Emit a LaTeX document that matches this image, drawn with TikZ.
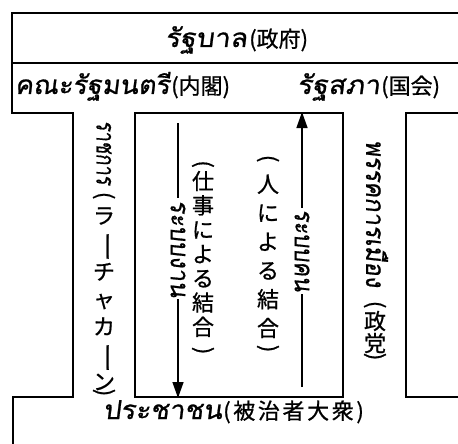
\documentclass[tikz,border=0pt]{standalone}
\usepackage{fontspec}
\newfontfamily\thaifont[Script=Thai,FakeSlant=0.12,FakeBold=0.8]{Loma}
\newfontfamily\jpfont[FakeBold=0.8]{Noto Sans CJK JP}
\newfontfamily\jpwfont[LetterSpace=12,FakeBold=0.8]{Noto Sans CJK JP}
\usetikzlibrary{arrows.meta}
\newcommand\thw[2]{\resizebox{#1}{\height}{\thaifont\fontsize{26}{30}\selectfont #2}}
\newcommand\vbar{\rotatebox[origin=c]{-90}{\scalebox{1.4}[1]{ー}}}
\newcommand\vop{\rotatebox[origin=c]{-90}{(}}
\newcommand\vcl{\rotatebox[origin=c]{-90}{)}}
\begin{document}
\begin{tikzpicture}[x=1pt,y=-1pt,
  frame/.style={line width=2pt, line join=miter},
  arr/.style={line width=1.4pt, -{Triangle[length=16pt,width=11pt]}},
  hdr/.style={anchor=base west, inner sep=0, font=\fontsize{22}{26}\selectfont},
  jpcol/.style={font=\jpfont\fontsize{22}{#1}\selectfont, align=center, inner sep=0, anchor=north},
  vthai/.style={rotate=-90, inner sep=0},
  lbl/.style={rotate=-90, fill=white, inner xsep=2pt, inner ysep=0}]
\useasboundingbox (0,0) rectangle (458,444);
% outline
\draw[frame] (458,13) -- (12,13) -- (12,113) -- (73,113) -- (73,397) -- (13,397) -- (13,444);
\draw[frame] (12,63) -- (458,63);
\node[draw, frame, minimum width=208pt, minimum height=284pt, inner sep=0] (cbox) at (239,255) {};
\draw[frame] (458,113) -- (406,113) -- (406,397) -- (458,397);
% header texts
\node[hdr] (gov) at (165,47) {\thw{82pt}{รัฐบาล}\hspace{2pt}{\jpfont(政府)}};
\node[hdr] (cab) at (15,94) {\thw{155pt}{คณะรัฐมนตรี}\hspace{1pt}{\jpfont(内閣)}};
\node[hdr] (parl) at (297,94) {\thw{83pt}{รัฐสภา}\hspace{1pt}{\jpfont(国会)}};
\node[hdr] (ppl) at (103,419) {\thw{119pt}{ประชาชน}\hspace{1pt}{\jpwfont(被治者大衆)}};
% corridors
\node[vthai] (bur) at (104,153) {\thw{64pt}{ราชการ}};
\node[jpcol=27.5] (burj) at (104,191.7) {\vop\\[-6.2pt]ラ\\\vbar\\チ\\ャ\\カ\\\vbar\\ン\\[-17.9pt]\vcl};
\node[vthai] (party) at (377,214) {\thw{147pt}{พรรคการเมือง}};
\node[jpcol=22] (partyj) at (375,300.7) {\vop\\[-4.1pt]政\\党\\[-9.9pt]\vcl};
% center columns
\node[jpcol=24.3] (work) at (203,160.2) {\vop\\[-5.9pt]仕\\事\\に\\よ\\る\\結\\合\\[-2pt]\vcl};
\node[jpcol=28.8] (pers) at (268,154.7) {\vop\\[-1.9pt]人\\に\\よ\\る\\結\\合\\[-9.7pt]\vcl};
% arrows
\coordinate (lt) at (178,123);
\coordinate (rb) at (302,387);
\draw[arr] (lt) -- (lt |- cbox.south) node[lbl, pos=0.458] (wl) {\thw{97pt}{ระบบงาน}};
\draw[arr] (rb) -- (rb |- cbox.north) node[lbl, pos=0.496] (pl) {\thw{82pt}{ระบบคน}};
\end{tikzpicture}
\end{document}
